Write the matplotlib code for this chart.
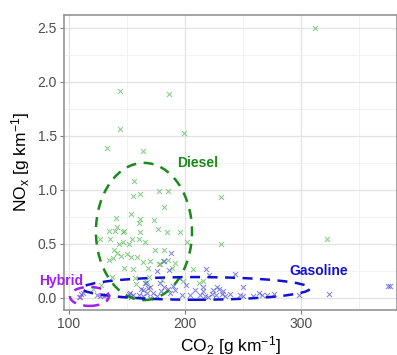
import matplotlib
matplotlib.use("Agg")
import matplotlib.pyplot as plt
from matplotlib.patches import Ellipse
from matplotlib.ticker import MultipleLocator

plt.rcParams['font.family'] = ['Liberation Sans', 'DejaVu Sans']
plt.rcParams['mathtext.fontset'] = 'custom'
plt.rcParams['mathtext.rm'] = 'Liberation Sans'
plt.rcParams['mathtext.it'] = 'Liberation Sans'

# ---- data (CO2 g/km, NOx g/km) ----
diesel_co2 = [144.0, 186.2, 144.0, 199.1, 132.8, 163.8, 312.1, 231.0, 231.0, 322.4,
              156.0, 155.2, 161.2, 177.6, 185.3, 181.9, 153.4, 140.5, 161.2, 173.3,
              160.3, 141.4, 147.4, 139.7, 134.5, 146.6, 161.2, 176.7, 184.5, 195.7,
              126.7, 135.3, 154.3, 160.3, 201.7, 165.5, 146.6, 143.1, 151.7, 138.8,
              141.4, 134.5, 158.6, 144.8, 153.4, 150.0, 147.4, 155.2, 168.1, 174.1,
              181.9, 185.3, 188.8, 181.0, 206.9, 137.1, 157.8, 166.4, 191.4, 163.8,
              177.6, 198.3, 212.1, 215.5, 167.2, 137.9, 169.8, 178.4, 156.9, 169.0,
              180.2, 128.0, 120.5]
diesel_nox = [1.92, 1.89, 1.56, 1.53, 1.39, 1.36, 2.50, 0.93, 0.50, 0.55,
              1.08, 0.94, 0.96, 0.99, 0.99, 0.84, 0.78, 0.74, 0.73, 0.72,
              0.69, 0.66, 0.62, 0.62, 0.62, 0.61, 0.61, 0.64, 0.61, 0.61,
              0.55, 0.55, 0.55, 0.55, 0.52, 0.52, 0.52, 0.50, 0.50, 0.44,
              0.42, 0.35, 0.38, 0.39, 0.38, 0.41, 0.28, 0.27, 0.28, 0.44,
              0.44, 0.35, 0.28, 0.34, 0.27, 0.19, 0.13, 0.14, 0.32, 0.33,
              0.31, 0.16, 0.14, 0.16, 0.15, 0.37, 0.34, 0.31, 0.18, 0.19,
              0.17, 0.12, 0.08]

gasoline_co2 = [218.1, 220.7, 243.1, 215.5, 227.6, 229.3, 250.0, 212.9, 217.2, 219.8,
                223.3, 226.7, 231.9, 234.5, 247.4, 250.0, 258.6, 263.8, 266.4, 270.7,
                276.7, 298.3, 324.1, 375.0, 376.7, 187.9, 181.9, 175.9, 165.5, 169.8,
                178.4, 181.9, 185.3, 189.7, 191.4, 167.2, 172.4, 179.3, 187.1, 197.4,
                204.3, 208.6, 215.5, 224.1, 232.8, 162.1, 163.8, 169.8, 112.1, 109.5,
                152.6, 163.8, 168.1, 186.2, 175.9, 160.3, 155.2, 110.3, 124.1, 130.2,
                151.7, 153.4, 195.0, 201.0, 239.0]
gasoline_nox = [0.27, 0.21, 0.22, 0.10, 0.10, 0.08, 0.10, 0.03, 0.02, 0.01,
                0.04, 0.03, 0.04, 0.02, 0.03, 0.02, 0.02, 0.05, 0.03, 0.03,
                0.04, 0.03, 0.04, 0.11, 0.11, 0.42, 0.34, 0.25, 0.14, 0.10,
                0.14, 0.10, 0.08, 0.11, 0.07, 0.05, 0.05, 0.06, 0.05, 0.03,
                0.03, 0.07, 0.06, 0.07, 0.06, 0.08, 0.02, 0.00, 0.05, 0.01,
                0.05, 0.07, 0.09, 0.26, 0.02, 0.03, 0.03, 0.04, 0.03, 0.02,
                0.04, 0.01, 0.18, 0.12, 0.04]

hybrid_co2 = [108.6, 126.7, 128.5]
hybrid_nox = [0.01, 0.02, 0.03]

# group annotations: label, label position, ellipse centre/size, colours
groups = ['Diesel', 'Gasoline', 'Hybrid']
label_xy = [(211, 1.25), (315, 0.25), (93, 0.155)]
ell_center = [(164.7, 0.615), (209.5, 0.088), (117.7, 0.014)]
ell_size = [(82.8, 1.27), (196.5, 0.21), (33.6, 0.176)]
ell_colors = ['#1a8a1a', '#1212d0', '#a020f0']
point_colors = ['#55b855', '#5050d8', '#a848e8']

fig = plt.figure(figsize=(3.97, 3.55), dpi=100)
ax = fig.add_axes([0.161, 0.127, 0.839, 0.831])

ax.set_xlim(95.7, 382.8)
ax.set_ylim(-0.111, 2.62)

ax.xaxis.set_major_locator(MultipleLocator(100))
ax.xaxis.set_minor_locator(MultipleLocator(50))
ax.yaxis.set_major_locator(MultipleLocator(0.5))
ax.yaxis.set_minor_locator(MultipleLocator(0.25))
ax.grid(True, which='major', color='#e3e3e3', lw=0.9)
ax.grid(True, which='minor', color='#f0f0f0', lw=0.6)
ax.set_axisbelow(True)
ax.yaxis.set_major_formatter(matplotlib.ticker.FormatStrFormatter('%.1f'))

for s in ax.spines.values():
    s.set_color('#8c8c8c')
    s.set_linewidth(1.1)
ax.tick_params(which='major', length=3, width=0.8, color='#7f7f7f',
               labelsize=10, labelcolor='#4d4d4d', pad=2)
ax.tick_params(which='minor', length=0)

series = [(diesel_co2, diesel_nox), (gasoline_co2, gasoline_nox), (hybrid_co2, hybrid_nox)]
for (xs, ys), pc in zip(series, point_colors):
    ax.scatter(xs, ys, marker='x', s=13, linewidths=0.75, color=pc, alpha=0.7, zorder=3)

for g, (lx, ly), c, sz, ec in zip(groups, label_xy, ell_center, ell_size, ell_colors):
    ax.add_patch(Ellipse(c, sz[0], sz[1], fill=False, edgecolor=ec, lw=1.8,
                         linestyle=(0, (4, 3)), zorder=4))
    ax.text(lx, ly, g, color=ec, fontsize=10, fontweight='bold',
            ha='center', va='center', clip_on=False, zorder=5)

ax.set_xlabel('CO$_2$ [g km$^{-1}$]', fontsize=12.5, color='black', labelpad=2)
ax.set_ylabel('NO$_x$ [g km$^{-1}$]', fontsize=12.5, color='black', labelpad=4)

fig.savefig('out.png', dpi=100)
